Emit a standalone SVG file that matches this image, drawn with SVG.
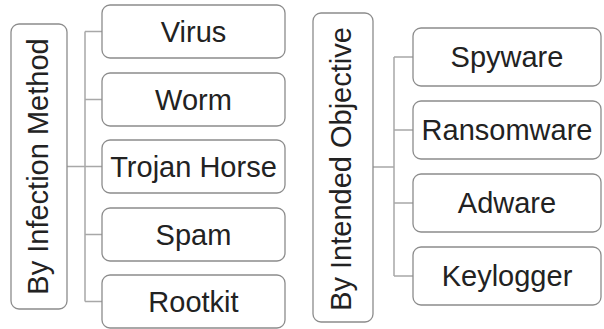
<svg xmlns="http://www.w3.org/2000/svg" width="604" height="329" viewBox="0 0 604 329">
<style>
.box{fill:#fff;stroke:#8c8c8c;stroke-width:1.3}
.lbl{font-family:"Liberation Sans",Arial,sans-serif;font-size:29px;fill:#222;text-anchor:middle}
.conn{fill:none;stroke:#a8a8a8;stroke-width:1.5}
</style>
<rect width="604" height="329" fill="#fff"/>
<g id="connectors">
<path class="conn" d="M67 166.5H85M85 31.5V301.5M85 31.5H102M85 99.5H102M85 166.5H102M85 234.5H102M85 301.5H102"/>
<path class="conn" d="M373 167H394M394 57V276M394 57H413M394 130H413M394 203H413M394 276H413"/>
</g>
<g id="infection-method">
<rect class="box" x="11" y="24" width="56" height="285" rx="8"/>
<text class="lbl" transform="translate(47.5 166.5) rotate(-90)">By Infection Method</text>
</g>
<g id="virus"><rect class="box" x="102" y="5" width="183" height="53" rx="8"/><text class="lbl" x="193.5" y="41.5">Virus</text></g>
<g id="worm"><rect class="box" x="102" y="73" width="183" height="53" rx="8"/><text class="lbl" x="193.5" y="109.5">Worm</text></g>
<g id="trojan"><rect class="box" x="102" y="140" width="183" height="53" rx="8"/><text class="lbl" x="193.5" y="176.5">Trojan Horse</text></g>
<g id="spam"><rect class="box" x="102" y="208" width="183" height="53" rx="8"/><text class="lbl" x="193.5" y="244.5">Spam</text></g>
<g id="rootkit"><rect class="box" x="102" y="275" width="183" height="53" rx="8"/><text class="lbl" x="193.5" y="311.5">Rootkit</text></g>
<g id="intended-objective">
<rect class="box" x="313" y="13" width="60" height="309" rx="8"/>
<text class="lbl" transform="translate(351 169) rotate(-90)">By Intended Objective</text>
</g>
<g id="spyware"><rect class="box" x="413" y="28" width="188" height="58" rx="8"/><text class="lbl" x="507" y="67">Spyware</text></g>
<g id="ransomware"><rect class="box" x="413" y="101" width="188" height="58" rx="8"/><text class="lbl" x="507" y="140">Ransomware</text></g>
<g id="adware"><rect class="box" x="413" y="174" width="188" height="58" rx="8"/><text class="lbl" x="507" y="213">Adware</text></g>
<g id="keylogger"><rect class="box" x="413" y="247" width="188" height="58" rx="8"/><text class="lbl" x="507" y="286">Keylogger</text></g>
</svg>
